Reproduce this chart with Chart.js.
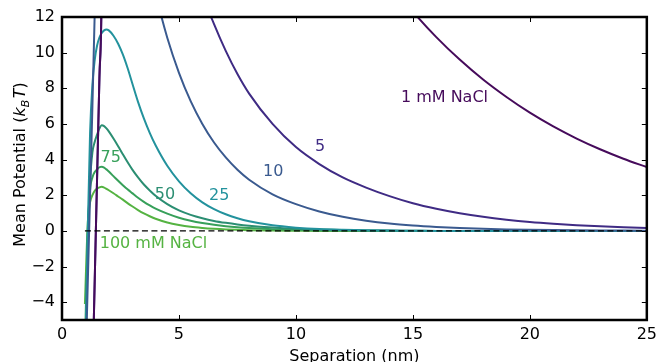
<!DOCTYPE html>
<html>
<head>
<meta charset="utf-8">
<script src="https://cdn.jsdelivr.net/npm/chart.js@4.4.0/dist/chart.umd.min.js"></script>
<style>
  html, body { margin: 0; padding: 0; background: #fff; }
</style>
</head>
<body>
<canvas id="potentialChart" width="662" height="362"></canvas>
<script>
// separation (nm) shared by every curve
const separation = [0.98, 1.1, 1.2, 1.3, 1.4, 1.5, 1.6, 1.7, 1.8, 1.9, 2.0, 2.2, 2.4, 2.6, 2.8, 3.0, 3.25, 3.5, 3.75, 4,
  4.5, 5, 5.5, 6, 6.5, 7, 7.5, 8, 9, 10, 11, 12, 13, 14, 15, 16, 17, 18, 19, 20, 21, 22, 23, 24, 25];

// mean potential (kBT), one array per salt concentration
const pot1 = [null, null, null, -8.4, -2.7, 3.0, 8.6, 14.3, 40, 55, 60, 60, 59, 58, 57, 56, 55, 53, 51, 50,
  47, 44, 41.5, 39, 37, 35, 33, 31, 28, 22.8, 20.2, 17.8, 15.7, 13.9, 12.3, 10.87, 9.61, 8.49, 7.51, 6.63, 5.86, 5.18, 4.58, 4.05, 3.58];
const pot5 = [null, null, null, -8.4, -2.7, 3.0, 8.6, 14.3, 44, 43, 42, 40, 38, 36, 34, 32, 30, 28, 26.3, 24.5,
  21.3, 18.5, 16.0, 13.3, 11.6, 10.1, 8.8, 7.7, 6.0, 4.7, 3.75, 3.0, 2.43, 1.95, 1.55, 1.24, 0.99, 0.79, 0.63, 0.5, 0.4, 0.32, 0.255, 0.2, 0.16];
const pot10 = [-9, -3, 2.0, 7.0, 12.3, 18, 23, 27, 29, 30, 29.5, 27.6, 25.5, 23.5, 21.6, 20, 18, 16.3, 14.7, 13.3,
  10.84, 8.87, 7.28, 6.0, 4.96, 4.12, 3.43, 2.87, 2.05, 1.5, 1.09, 0.79, 0.57, 0.41, 0.3, 0.22, 0.16, 0.115, 0.083, 0.06, 0.044, 0.032, 0.023, 0.017, 0.012];
const pot25 = [-9, 0, 5.5, 8.2, 9.6, 10.4, 10.85, 11.1, 11.25, 11.3, 11.25, 10.95, 10.5, 9.9, 9.15, 8.3, 7.24, 6.31, 5.5, 4.8,
  3.65, 2.78, 2.11, 1.6, 1.22, 0.93, 0.71, 0.54, 0.31, 0.18, 0.1, 0.06, 0.035, 0.02, 0.01, 0, 0, 0, 0, 0, 0, 0, 0, 0, 0];
const pot50 = [-8, -0.5, 2.8, 4.4, 5.0, 5.4, 5.75, 5.93, 5.88, 5.75, 5.58, 5.18, 4.75, 4.3, 3.86, 3.45, 3.0, 2.6, 2.27, 1.97,
  1.5, 1.15, 0.9, 0.71, 0.56, 0.45, 0.36, 0.29, 0.19, 0.12, 0.075, 0.045, 0.027, 0.016, 0.01, 0, 0, 0, 0, 0, 0, 0, 0, 0, 0];
const pot75 = [-6.5, -0.2, 2.3, 3.0, 3.3, 3.45, 3.57, 3.6, 3.55, 3.45, 3.33, 3.07, 2.81, 2.56, 2.33, 2.12, 1.86, 1.63, 1.43, 1.25,
  0.97, 0.74, 0.57, 0.44, 0.34, 0.26, 0.2, 0.155, 0.095, 0.057, 0.034, 0.02, 0.012, 0, 0, 0, 0, 0, 0, 0, 0, 0, 0, 0, 0];
const pot100 = [-4.1, 0.4, 1.6, 2.0, 2.25, 2.37, 2.44, 2.47, 2.43, 2.36, 2.28, 2.11, 1.93, 1.75, 1.56, 1.38, 1.17, 0.98, 0.82, 0.68,
  0.47, 0.33, 0.23, 0.165, 0.117, 0.082, 0.058, 0.041, 0.02, 0.01, 0, 0, 0, 0, 0, 0, 0, 0, 0, 0, 0, 0, 0, 0, 0];

const concentrations = ['1 mM', '5 mM', '10 mM', '25 mM', '50 mM', '75 mM', '100 mM'];
const potentials = [pot1, pot5, pot10, pot25, pot50, pot75, pot100];
const lineColors = ['#460b5b', '#3f2b84', '#3a5a8f', '#23929d', '#2b8e72', '#37a05a', '#55b342'];

const zeroLineX = [0.98, 25];
const zeroLineY = [0, 0];

const xTicks = [0, 5, 10, 15, 20, 25];
const yTicks = [-4, -2, 0, 2, 4, 6, 8, 10, 12];

// text next to the curves, in data units
const curveLabels = [
  { text: '1 mM NaCl', x: 16.35, y: 7.49, color: lineColors[0] },
  { text: '5', x: 11.03, y: 4.71, color: lineColors[1] },
  { text: '10', x: 9.03, y: 3.31, color: lineColors[2] },
  { text: '25', x: 6.72, y: 1.99, color: lineColors[3] },
  { text: '50', x: 4.40, y: 2.05, color: lineColors[4] },
  { text: '75', x: 2.08, y: 4.12, color: lineColors[5] },
  { text: '100 mM NaCl', x: 3.91, y: -0.73, color: lineColors[6] }
];

const FONT = '"DejaVu Sans", "Liberation Sans", sans-serif';
Chart.defaults.font.family = FONT;
Chart.defaults.font.size = 16;
Chart.defaults.color = '#000';

function toPoints(xs, ys) {
  return xs.map((x, i) => ({ x: x, y: ys[i] })).filter(p => p.y !== null);
}

// frame, inward ticks, axis titles and curve labels
const framePlugin = {
  id: 'frame',
  afterDatasetsDraw(chart) {
    const { ctx, chartArea: a, scales: { x, y } } = chart;
    ctx.save();

    ctx.font = '16px ' + FONT;
    ctx.textAlign = 'center';
    ctx.textBaseline = 'middle';
    curveLabels.forEach(l => {
      ctx.fillStyle = l.color;
      ctx.fillText(l.text, x.getPixelForValue(l.x), y.getPixelForValue(l.y));
    });

    ctx.strokeStyle = '#000';
    ctx.lineWidth = 1;
    ctx.beginPath();
    xTicks.forEach(v => {
      const px = Math.round(x.getPixelForValue(v)) + 0.5;
      ctx.moveTo(px, a.bottom); ctx.lineTo(px, a.bottom - 5);
      ctx.moveTo(px, a.top); ctx.lineTo(px, a.top + 5);
    });
    yTicks.forEach(v => {
      const py = Math.round(y.getPixelForValue(v)) + 0.5;
      ctx.moveTo(a.left, py); ctx.lineTo(a.left + 5, py);
      ctx.moveTo(a.right, py); ctx.lineTo(a.right - 5, py);
    });
    ctx.stroke();

    ctx.lineWidth = 2.5;
    ctx.strokeRect(a.left, a.top, a.right - a.left, a.bottom - a.top);

    // x title
    ctx.fillStyle = '#000';
    ctx.textBaseline = 'alphabetic';
    ctx.fillText('Separation (nm)', (a.left + a.right) / 2, 361);

    // y title with k_B T
    const parts = [
      { t: 'Mean Potential (', f: '16px ' + FONT, dy: 0, gap: 0 },
      { t: 'k', f: 'italic 16px ' + FONT, dy: 0, gap: 0 },
      { t: 'B', f: 'italic 11px ' + FONT, dy: 3.5, gap: 0 },
      { t: 'T', f: 'italic 16px ' + FONT, dy: 0, gap: 1.5 },
      { t: ')', f: '16px ' + FONT, dy: 0, gap: 0 }
    ];
    let total = 0;
    parts.forEach(p => { ctx.font = p.f; p.w = ctx.measureText(p.t).width; total += p.w + p.gap; });
    ctx.translate(25, (a.top + a.bottom) / 2 - 4);
    ctx.rotate(-Math.PI / 2);
    ctx.textAlign = 'left';
    let cx = -total / 2;
    parts.forEach(p => {
      cx += p.gap;
      ctx.font = p.f;
      ctx.fillText(p.t, cx, p.dy);
      cx += p.w;
    });
    ctx.restore();
  }
};

const datasets = [{
  label: 'zero',
  data: toPoints(zeroLineX, zeroLineY),
  borderColor: '#000',
  borderWidth: 1.2,
  borderDash: [6, 3.5],
  pointRadius: 0,
  tension: 0
}].concat(potentials.map((ys, i) => ({
  label: concentrations[i],
  data: toPoints(separation, ys),
  borderColor: lineColors[i],
  borderWidth: 2,
  pointRadius: 0,
  cubicInterpolationMode: 'monotone'
})));

new Chart(document.getElementById('potentialChart'), {
  type: 'line',
  data: { datasets: datasets },
  options: {
    responsive: false,
    animation: false,
    devicePixelRatio: 1,
    layout: { padding: { left: 0, right: 12, top: 17, bottom: 0 } },
    plugins: { legend: { display: false }, tooltip: { enabled: false } },
    scales: {
      x: {
        type: 'linear',
        min: 0,
        max: 25,
        afterFit: s => { s.height = 42; },
        afterBuildTicks: s => { s.ticks = xTicks.map(v => ({ value: v })); },
        grid: { display: false, drawTicks: false },
        border: { display: false },
        ticks: { padding: 5, maxRotation: 0, autoSkip: false, color: '#000' }
      },
      y: {
        type: 'linear',
        min: -5,
        max: 12,
        afterFit: s => { s.width = 62; },
        afterBuildTicks: s => { s.ticks = yTicks.map(v => ({ value: v })); },
        grid: { display: false, drawTicks: false },
        border: { display: false },
        ticks: {
          padding: 7,
          color: '#000',
          callback: v => String(v).replace('-', '\u2212')
        }
      }
    }
  },
  plugins: [framePlugin]
});
</script>
</body>
</html>
